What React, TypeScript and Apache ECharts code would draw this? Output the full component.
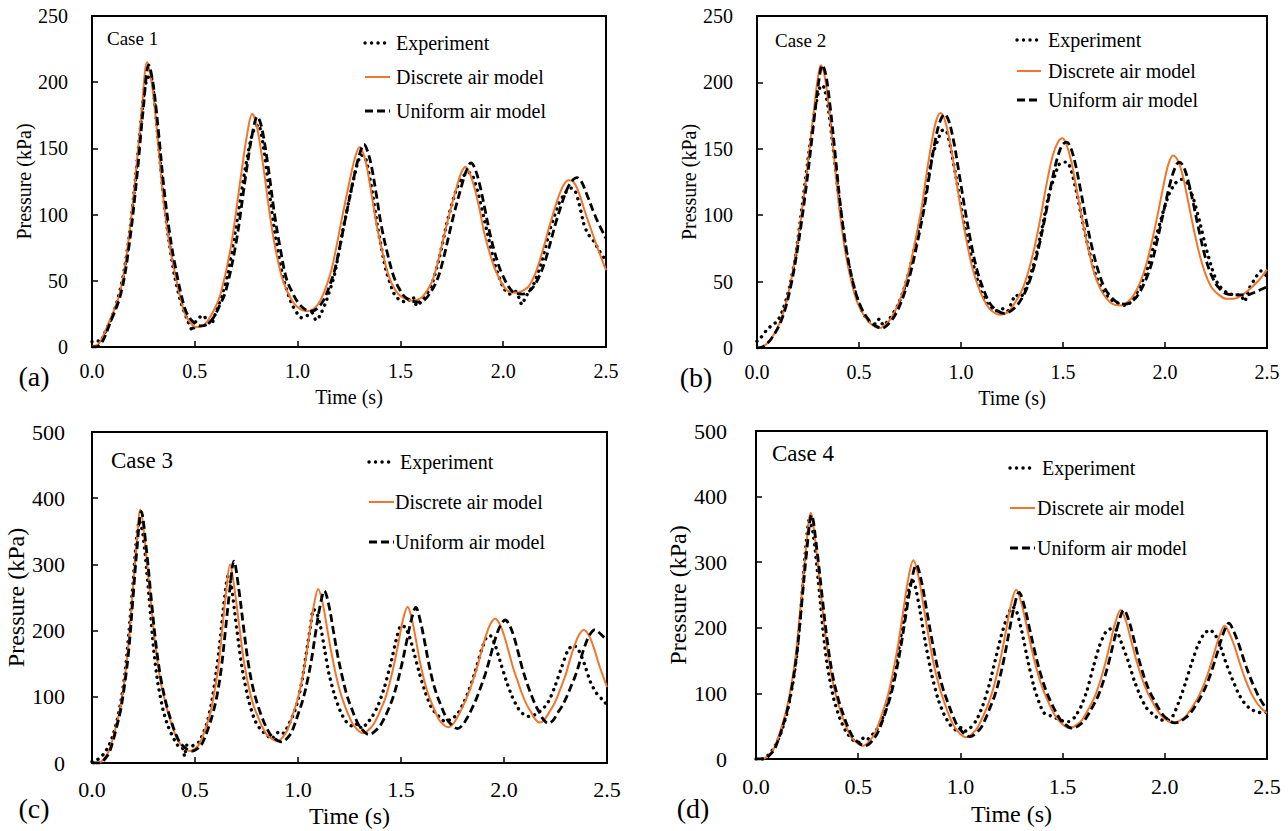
import React, { useEffect, useRef } from "react";
import * as echarts from "echarts";

type P = [number, number];

const SERIES_NAMES = ["Experiment", "Discrete air model", "Uniform air model"];
const CASE_LABELS = ["Case 1", "Case 2", "Case 3", "Case 4"];
const PANEL_LABELS = ["(a)", "(b)", "(c)", "(d)"];
const X_NAME = "Time (s)";
const Y_NAME = "Pressure (kPa)";
const X_MAX = 2.5;
const X_STEP = 0.5;
const Y_MAX = [250, 250, 500, 500];
const Y_STEP = [50, 50, 100, 100];

// ---------- Case 1 ----------
const A_EXP: P[] = [[0.0,4],[0.02,5],[0.04,4],[0.06,10],[0.09,20],[0.12,33],[0.15,52],[0.18,82],[0.21,125],[0.235,165],[0.255,195],[0.27,203],[0.285,205],[0.3,192],[0.32,160],[0.345,118],[0.37,85],[0.4,55],[0.43,35],[0.46,22],[0.49,12],[0.5,18],[0.52,22],[0.54,24],[0.56,20],[0.58,17],[0.6,25],[0.63,38],[0.66,55],[0.7,90],[0.74,130],[0.77,155],[0.79,165],[0.81,168],[0.83,155],[0.86,120],[0.89,85],[0.93,52],[0.97,33],[1.0,25],[1.02,22],[1.05,24],[1.07,26],[1.09,20],[1.11,24],[1.14,35],[1.18,55],[1.22,88],[1.26,118],[1.29,138],[1.31,145],[1.33,143],[1.36,120],[1.39,90],[1.43,58],[1.47,40],[1.5,35],[1.53,34],[1.56,38],[1.58,31],[1.61,36],[1.65,46],[1.69,68],[1.73,96],[1.77,118],[1.8,128],[1.83,132],[1.85,130],[1.88,115],[1.92,88],[1.96,62],[2.0,45],[2.03,40],[2.06,42],[2.08,36],[2.09,32],[2.11,38],[2.15,48],[2.19,66],[2.23,90],[2.27,108],[2.3,116],[2.33,120],[2.35,118],[2.37,108],[2.39,94],[2.41,86],[2.44,80],[2.47,72],[2.5,65]];
const A_DISC: P[] = [[0.0,1],[0.03,2],[0.075,16],[0.134,40],[0.174,76],[0.213,131],[0.243,181],[0.268,215],[0.29,200],[0.315,165],[0.341,121],[0.365,90],[0.39,66],[0.44,31],[0.47,20],[0.509,15],[0.54,16],[0.568,21],[0.6,30],[0.627,41],[0.676,76],[0.726,131],[0.755,161],[0.779,176],[0.8,168],[0.83,140],[0.864,101],[0.89,76],[0.923,53],[0.95,42],[0.982,33],[1.02,28],[1.051,27],[1.08,29],[1.11,35],[1.14,46],[1.169,61],[1.218,99],[1.258,129],[1.283,145],[1.303,151],[1.32,146],[1.337,136],[1.36,115],[1.386,91],[1.415,70],[1.445,53],[1.475,43],[1.504,38],[1.563,35],[1.6,37],[1.623,41],[1.655,50],[1.682,64],[1.731,96],[1.774,121],[1.797,132],[1.816,136],[1.835,132],[1.859,121],[1.885,104],[1.908,86],[1.94,68],[1.968,56],[2.017,43],[2.07,41],[2.1,43],[2.125,46],[2.155,55],[2.185,69],[2.234,96],[2.283,119],[2.318,126],[2.34,125],[2.362,119],[2.411,96],[2.461,74],[2.5,58]];
const A_UNIF: P[] = [[0.0,0],[0.02,0],[0.05,4],[0.085,17],[0.14,40],[0.18,76],[0.22,131],[0.25,181],[0.276,213],[0.298,198],[0.323,163],[0.35,120],[0.375,89],[0.4,65],[0.45,30],[0.485,20],[0.528,16],[0.56,17],[0.59,22],[0.62,31],[0.65,42],[0.7,78],[0.75,132],[0.78,161],[0.804,174],[0.825,166],[0.855,138],[0.888,100],[0.915,75],[0.945,52],[0.975,41],[1.005,33],[1.04,28],[1.065,27],[1.095,29],[1.125,35],[1.155,46],[1.185,61],[1.235,99],[1.275,129],[1.302,146],[1.323,153],[1.342,147],[1.36,136],[1.383,115],[1.408,91],[1.438,70],[1.468,53],[1.498,43],[1.528,37],[1.583,34],[1.62,36],[1.645,41],[1.677,50],[1.705,64],[1.755,97],[1.8,123],[1.823,134],[1.843,139],[1.862,135],[1.885,123],[1.91,105],[1.935,86],[1.965,68],[1.995,55],[2.045,42],[2.096,40],[2.125,42],[2.15,46],[2.18,55],[2.21,68],[2.26,96],[2.31,119],[2.338,126],[2.358,128],[2.38,125],[2.405,116],[2.45,98],[2.5,82]];

// ---------- Case 2 ----------
const B_EXP: P[] = [[0.0,5],[0.02,8],[0.05,14],[0.08,18],[0.1,20],[0.13,30],[0.16,46],[0.19,70],[0.22,105],[0.25,142],[0.28,175],[0.3,192],[0.315,198],[0.33,196],[0.35,180],[0.37,155],[0.4,115],[0.43,80],[0.46,55],[0.49,38],[0.52,26],[0.55,20],[0.58,18],[0.6,22],[0.62,17],[0.65,22],[0.69,32],[0.72,44],[0.75,60],[0.79,88],[0.83,120],[0.86,145],[0.89,158],[0.91,164],[0.93,163],[0.95,150],[0.98,125],[1.01,98],[1.04,76],[1.07,57],[1.1,42],[1.13,33],[1.16,28],[1.19,28],[1.21,30],[1.23,28],[1.25,35],[1.27,40],[1.29,38],[1.32,46],[1.36,65],[1.4,92],[1.43,115],[1.46,130],[1.48,138],[1.5,140],[1.52,140],[1.54,134],[1.57,115],[1.6,92],[1.63,72],[1.66,55],[1.7,42],[1.74,36],[1.78,33],[1.81,32],[1.84,36],[1.87,44],[1.91,58],[1.95,80],[1.99,102],[2.02,116],[2.05,124],[2.08,127],[2.11,124],[2.14,112],[2.17,95],[2.2,76],[2.23,60],[2.26,48],[2.3,42],[2.34,40],[2.37,40],[2.39,35],[2.41,44],[2.44,52],[2.47,58],[2.5,54]];
const B_DISC: P[] = [[0.0,0],[0.03,1],[0.07,7],[0.117,21],[0.158,44],[0.198,79],[0.239,126],[0.279,179],[0.298,203],[0.313,213],[0.33,206],[0.35,184],[0.375,148],[0.4,110],[0.43,75],[0.461,51],[0.49,35],[0.522,25],[0.56,18],[0.603,15],[0.64,19],[0.674,27],[0.71,40],[0.744,58],[0.775,80],[0.805,104],[0.835,135],[0.86,158],[0.88,172],[0.9,177],[0.92,172],[0.945,156],[0.97,133],[1.0,104],[1.028,80],[1.058,59],[1.088,45],[1.12,34],[1.15,28],[1.193,25],[1.23,27],[1.26,33],[1.3,44],[1.331,58],[1.362,77],[1.392,100],[1.42,124],[1.45,145],[1.475,155],[1.497,158],[1.515,154],[1.54,141],[1.565,121],[1.594,97],[1.625,74],[1.654,56],[1.685,44],[1.715,37],[1.745,33],[1.782,32],[1.82,35],[1.847,40],[1.88,50],[1.91,64],[1.94,83],[1.97,105],[2.0,128],[2.02,140],[2.04,145],[2.06,142],[2.085,131],[2.11,113],[2.14,90],[2.17,70],[2.2,55],[2.231,45],[2.265,40],[2.3,37],[2.336,37],[2.37,39],[2.42,45],[2.46,51],[2.5,59]];
const B_UNIF: P[] = [[0.0,0],[0.03,1],[0.07,7],[0.12,21],[0.162,44],[0.203,79],[0.245,126],[0.285,179],[0.305,203],[0.32,213],[0.337,206],[0.357,184],[0.382,148],[0.407,110],[0.437,75],[0.468,51],[0.498,35],[0.53,25],[0.568,18],[0.613,15],[0.65,19],[0.685,27],[0.72,40],[0.755,58],[0.787,80],[0.818,104],[0.85,135],[0.876,158],[0.898,171],[0.92,176],[0.94,171],[0.965,155],[0.99,132],[1.02,104],[1.048,80],[1.078,59],[1.108,45],[1.14,34],[1.17,29],[1.21,26],[1.245,28],[1.28,33],[1.32,44],[1.352,58],[1.383,77],[1.414,100],[1.442,123],[1.472,143],[1.497,153],[1.519,155],[1.537,151],[1.56,139],[1.585,120],[1.614,96],[1.645,74],[1.675,57],[1.705,45],[1.738,38],[1.77,34],[1.806,33],[1.845,36],[1.872,41],[1.905,51],[1.935,64],[1.965,83],[1.995,104],[2.025,124],[2.05,136],[2.069,140],[2.09,137],[2.115,125],[2.14,108],[2.17,86],[2.2,67],[2.23,54],[2.26,46],[2.3,41],[2.362,40],[2.4,40],[2.44,42],[2.47,44],[2.5,46]];

// ---------- Case 3 ----------
const C_EXP: P[] = [[0.0,2],[0.02,4],[0.04,8],[0.06,15],[0.08,25],[0.1,40],[0.12,62],[0.14,92],[0.16,135],[0.18,200],[0.2,275],[0.215,335],[0.23,366],[0.245,350],[0.26,310],[0.28,240],[0.3,170],[0.32,120],[0.345,80],[0.37,55],[0.4,35],[0.42,25],[0.44,22],[0.45,10],[0.46,27],[0.48,25],[0.5,28],[0.52,32],[0.54,45],[0.56,62],[0.58,90],[0.6,130],[0.62,180],[0.64,240],[0.66,282],[0.675,270],[0.69,235],[0.71,185],[0.73,140],[0.76,95],[0.79,65],[0.82,50],[0.85,42],[0.87,36],[0.89,42],[0.91,48],[0.93,45],[0.95,55],[0.98,75],[1.0,95],[1.02,125],[1.04,165],[1.06,205],[1.075,232],[1.09,228],[1.11,205],[1.13,170],[1.15,135],[1.18,100],[1.21,75],[1.24,60],[1.27,55],[1.29,60],[1.31,52],[1.33,58],[1.36,70],[1.39,88],[1.42,115],[1.45,150],[1.48,190],[1.5,208],[1.52,205],[1.54,192],[1.56,170],[1.59,135],[1.62,105],[1.65,82],[1.67,75],[1.7,65],[1.72,62],[1.74,66],[1.77,72],[1.8,88],[1.83,110],[1.86,138],[1.89,170],[1.915,190],[1.935,192],[1.955,180],[1.98,155],[2.01,125],[2.04,100],[2.07,82],[2.1,72],[2.13,70],[2.16,75],[2.19,82],[2.22,95],[2.25,118],[2.28,145],[2.31,170],[2.335,178],[2.36,172],[2.39,150],[2.42,122],[2.45,105],[2.48,95],[2.5,88]];
const C_DISC: P[] = [[0.0,0],[0.03,0],[0.071,12],[0.092,27],[0.112,50],[0.133,77],[0.153,115],[0.174,169],[0.194,245],[0.215,326],[0.235,383],[0.259,328],[0.283,252],[0.307,179],[0.331,127],[0.356,91],[0.38,65],[0.404,43],[0.428,29],[0.476,18],[0.515,26],[0.534,38],[0.554,55],[0.573,74],[0.592,103],[0.612,142],[0.631,198],[0.651,258],[0.67,300],[0.693,260],[0.716,204],[0.739,150],[0.762,113],[0.785,86],[0.808,68],[0.831,52],[0.854,41],[0.9,33],[0.94,45],[0.959,58],[0.979,77],[0.999,97],[1.019,125],[1.039,160],[1.058,201],[1.078,240],[1.098,263],[1.12,241],[1.141,204],[1.163,165],[1.185,132],[1.206,106],[1.228,86],[1.25,69],[1.272,56],[1.315,45],[1.358,55],[1.38,66],[1.402,81],[1.424,98],[1.445,121],[1.467,150],[1.489,184],[1.51,217],[1.532,236],[1.552,218],[1.572,187],[1.591,154],[1.611,127],[1.631,105],[1.651,89],[1.671,74],[1.69,63],[1.73,54],[1.753,59],[1.775,70],[1.798,84],[1.821,100],[1.844,120],[1.866,141],[1.889,167],[1.912,192],[1.934,210],[1.957,218],[1.979,210],[2.0,193],[2.022,169],[2.044,144],[2.066,124],[2.087,105],[2.109,89],[2.131,77],[2.152,66],[2.174,61],[2.195,65],[2.216,75],[2.238,86],[2.259,100],[2.28,117],[2.301,135],[2.322,158],[2.344,179],[2.365,194],[2.386,201],[2.41,194],[2.435,175],[2.46,150],[2.48,132],[2.5,115]];
const C_UNIF: P[] = [[0.0,0],[0.034,0],[0.075,11],[0.096,27],[0.116,50],[0.137,77],[0.157,115],[0.178,169],[0.198,245],[0.219,326],[0.239,380],[0.263,326],[0.287,250],[0.311,178],[0.335,126],[0.36,90],[0.384,64],[0.408,43],[0.432,29],[0.486,18],[0.527,26],[0.547,38],[0.567,55],[0.587,75],[0.608,104],[0.628,144],[0.648,201],[0.669,262],[0.689,305],[0.712,264],[0.735,207],[0.758,152],[0.781,114],[0.805,87],[0.828,67],[0.851,51],[0.874,40],[0.92,32],[0.962,43],[0.982,57],[1.003,76],[1.024,96],[1.045,123],[1.066,157],[1.086,198],[1.107,237],[1.128,260],[1.15,238],[1.171,201],[1.193,162],[1.215,130],[1.236,104],[1.258,84],[1.28,67],[1.302,54],[1.345,43],[1.39,53],[1.413,64],[1.436,79],[1.459,97],[1.481,120],[1.504,149],[1.527,183],[1.55,216],[1.572,235],[1.592,217],[1.613,186],[1.633,153],[1.653,125],[1.674,103],[1.694,87],[1.714,72],[1.735,61],[1.775,52],[1.798,57],[1.821,68],[1.844,82],[1.867,98],[1.891,118],[1.914,139],[1.937,165],[1.96,190],[1.983,208],[2.006,216],[2.027,208],[2.048,191],[2.068,168],[2.089,143],[2.11,122],[2.131,104],[2.152,88],[2.172,76],[2.193,65],[2.214,60],[2.237,64],[2.259,75],[2.282,86],[2.304,100],[2.327,117],[2.349,134],[2.372,157],[2.395,179],[2.417,194],[2.44,201],[2.465,196],[2.485,190],[2.5,185]];

// ---------- Case 4 ----------
const D_EXP: P[] = [[0.0,0],[0.03,0],[0.06,6],[0.09,18],[0.12,38],[0.15,68],[0.18,115],[0.2,160],[0.22,230],[0.24,310],[0.26,364],[0.275,352],[0.29,318],[0.31,255],[0.33,190],[0.35,140],[0.38,92],[0.41,62],[0.44,42],[0.47,30],[0.5,25],[0.52,32],[0.54,28],[0.56,35],[0.58,40],[0.61,55],[0.64,82],[0.67,120],[0.7,170],[0.73,225],[0.75,262],[0.765,273],[0.78,262],[0.8,230],[0.83,175],[0.86,128],[0.89,92],[0.92,68],[0.95,52],[0.98,44],[1.0,48],[1.02,42],[1.05,48],[1.08,60],[1.11,82],[1.14,112],[1.17,150],[1.2,188],[1.23,218],[1.255,232],[1.275,225],[1.3,195],[1.33,150],[1.36,110],[1.39,82],[1.41,70],[1.44,66],[1.47,62],[1.5,58],[1.53,57],[1.56,64],[1.59,80],[1.62,105],[1.65,140],[1.68,172],[1.71,193],[1.74,199],[1.765,196],[1.79,175],[1.82,150],[1.85,120],[1.88,96],[1.91,78],[1.95,66],[1.98,60],[2.01,58],[2.04,66],[2.07,88],[2.1,115],[2.13,145],[2.16,172],[2.19,190],[2.22,197],[2.24,192],[2.26,182],[2.28,165],[2.3,146],[2.33,122],[2.36,100],[2.39,85],[2.42,76],[2.45,72],[2.48,70],[2.5,72]];
const D_DISC: P[] = [[0.0,0],[0.03,0],[0.078,11],[0.101,26],[0.125,49],[0.149,75],[0.173,113],[0.197,165],[0.22,240],[0.244,319],[0.268,375],[0.294,322],[0.319,247],[0.345,176],[0.37,126],[0.396,91],[0.421,66],[0.447,45],[0.472,31],[0.523,20],[0.572,34],[0.597,51],[0.622,74],[0.647,99],[0.671,133],[0.696,176],[0.721,227],[0.745,275],[0.77,303],[0.796,276],[0.821,230],[0.847,182],[0.872,141],[0.898,109],[0.924,84],[0.949,63],[0.975,47],[1.026,33],[1.075,44],[1.1,58],[1.125,75],[1.15,96],[1.174,123],[1.199,157],[1.224,197],[1.248,236],[1.273,258],[1.299,237],[1.325,201],[1.352,163],[1.378,131],[1.404,106],[1.43,87],[1.456,70],[1.483,58],[1.535,47],[1.585,56],[1.61,67],[1.635,81],[1.66,97],[1.684,119],[1.709,146],[1.734,178],[1.759,209],[1.784,227],[1.81,210],[1.835,181],[1.861,150],[1.887,124],[1.913,103],[1.938,88],[1.964,74],[1.99,64],[2.041,55],[2.091,62],[2.117,71],[2.142,83],[2.167,96],[2.192,114],[2.217,136],[2.243,163],[2.268,188],[2.293,203],[2.318,190],[2.343,170],[2.368,145],[2.393,122],[2.42,102],[2.445,88],[2.47,78],[2.5,70]];
const D_UNIF: P[] = [[0.0,0],[0.034,0],[0.082,11],[0.105,26],[0.129,48],[0.153,74],[0.177,112],[0.201,164],[0.224,238],[0.248,316],[0.272,372],[0.298,319],[0.324,247],[0.35,177],[0.376,126],[0.403,91],[0.429,66],[0.455,45],[0.481,31],[0.533,20],[0.584,34],[0.609,50],[0.634,72],[0.659,97],[0.684,130],[0.709,172],[0.734,221],[0.759,268],[0.784,296],[0.81,270],[0.836,225],[0.863,178],[0.889,138],[0.915,107],[0.941,84],[0.967,63],[0.994,47],[1.046,34],[1.094,45],[1.118,58],[1.142,76],[1.167,96],[1.191,122],[1.215,155],[1.239,195],[1.263,232],[1.287,254],[1.313,233],[1.339,198],[1.366,161],[1.392,130],[1.418,105],[1.444,86],[1.47,70],[1.497,57],[1.549,47],[1.599,56],[1.624,67],[1.649,81],[1.675,97],[1.7,119],[1.725,146],[1.75,178],[1.775,209],[1.8,227],[1.825,210],[1.85,181],[1.875,150],[1.9,124],[1.926,103],[1.951,88],[1.976,74],[2.001,64],[2.051,55],[2.103,63],[2.13,72],[2.156,84],[2.182,98],[2.208,116],[2.234,139],[2.261,166],[2.287,192],[2.313,207],[2.338,194],[2.363,174],[2.388,150],[2.413,128],[2.44,108],[2.465,92],[2.5,75]];

const CASES: P[][][] = [
  [A_EXP, A_DISC, A_UNIF],
  [B_EXP, B_DISC, B_UNIF],
  [C_EXP, C_DISC, C_UNIF],
  [D_EXP, D_DISC, D_UNIF],
];

// ---------- styles / layout ----------
const FONT = '"Liberation Serif", "Times New Roman", serif';
const ORANGE = "#F2752B";
const LINE_STYLES: any[] = [
  { color: "#000", width: 3.4, type: [0.1, 6.4], cap: "round" },
  { color: ORANGE, width: 2, type: "solid" },
  { color: "#000", width: 2.8, type: [8, 4] },
];
const SMOOTH = [0.2, 0.35, 0.35];

const LAYOUT = [
  { grid: { left: 92, top: 16, width: 514, height: 331 }, tick: 20, title: 20, xGap: 40, yGap: 56, xMargin: 14, yMargin: 24,
    caseX: 107, caseY: 38, caseSize: 19, panelX: 34, panelY: 376, lx1: 365, lx2: 390, tx: [396, 396, 396], ly: [43, 77, 111] },
  { grid: { left: 757, top: 16, width: 510, height: 332 }, tick: 20, title: 20, xGap: 40, yGap: 56, xMargin: 14, yMargin: 24,
    caseX: 775, caseY: 40, caseSize: 19, panelX: 696, panelY: 377, lx1: 1017, lx2: 1041, tx: [1048, 1048, 1048], ly: [40, 71, 100] },
  { grid: { left: 92, top: 432, width: 515, height: 331 }, tick: 22, title: 24, xGap: 41, yGap: 57, xMargin: 15, yMargin: 27,
    caseX: 111, caseY: 460, caseSize: 23, panelX: 34, panelY: 808, lx1: 369, lx2: 394, tx: [400, 395, 395], ly: [462, 502, 542] },
  { grid: { left: 756, top: 431, width: 511, height: 328 }, tick: 22, title: 24, xGap: 43, yGap: 63, xMargin: 16, yMargin: 29,
    caseX: 772, caseY: 453, caseSize: 23, panelX: 693, panelY: 808, lx1: 1010, lx2: 1035, tx: [1042, 1037, 1037], ly: [468, 508, 548] },
];

function buildOption() {
  const grid: any[] = [];
  const xAxis: any[] = [];
  const yAxis: any[] = [];
  const series: any[] = [];
  const graphic: any[] = [];

  LAYOUT.forEach((L, i) => {
    grid.push({ ...L.grid, show: true, borderColor: "#000", borderWidth: 2, backgroundColor: "transparent", containLabel: false, outerBoundsMode: "none" });
    xAxis.push({
      type: "value", gridIndex: i, min: 0, max: X_MAX, interval: X_STEP,
      name: X_NAME, nameLocation: "middle", nameGap: L.xGap,
      nameTextStyle: { fontFamily: FONT, fontSize: L.title, color: "#000" },
      axisLine: { show: true, lineStyle: { color: "#000", width: 2 } },
      axisTick: { show: true, inside: true, length: 6, lineStyle: { color: "#000", width: 1.5 } },
      axisLabel: { fontFamily: FONT, fontSize: L.tick, color: "#000", margin: L.xMargin, showMinLabel: true, showMaxLabel: true,
        formatter: (v: number) => v.toFixed(1) },
      splitLine: { show: false },
    });
    yAxis.push({
      type: "value", gridIndex: i, min: 0, max: Y_MAX[i], interval: Y_STEP[i],
      name: Y_NAME, nameLocation: "middle", nameGap: L.yGap,
      nameTextStyle: { fontFamily: FONT, fontSize: L.title, color: "#000" },
      axisLine: { show: true, lineStyle: { color: "#000", width: 2 } },
      axisTick: { show: true, inside: true, length: 6, lineStyle: { color: "#000", width: 1.5 } },
      axisLabel: { fontFamily: FONT, fontSize: L.tick, color: "#000", margin: L.yMargin, showMinLabel: true, showMaxLabel: true },
      splitLine: { show: false },
    });
    CASES[i].forEach((data, k) => {
      series.push({
        type: "line", name: SERIES_NAMES[k], xAxisIndex: i, yAxisIndex: i, data,
        showSymbol: false, symbol: "none", smooth: SMOOTH[k], clip: true,
        lineStyle: LINE_STYLES[k], itemStyle: { color: LINE_STYLES[k].color }, z: 2 + k,
      });
    });
    // case label
    graphic.push({ type: "text", x: L.caseX, y: L.caseY, style: { text: CASE_LABELS[i], fontFamily: FONT, fontSize: L.caseSize, fill: "#000", align: "left", verticalAlign: "middle" } });
    // panel label
    graphic.push({ type: "text", x: L.panelX, y: L.panelY, style: { text: PANEL_LABELS[i], fontFamily: FONT, fontSize: 28, fill: "#000", align: "center", verticalAlign: "middle" } });
    // legend
    SERIES_NAMES.forEach((nm, k) => {
      const s = LINE_STYLES[k];
      graphic.push({
        type: "line", shape: { x1: L.lx1, y1: L.ly[k], x2: L.lx2, y2: L.ly[k] },
        style: { stroke: s.color, lineWidth: s.width, lineDash: Array.isArray(s.type) ? s.type : null, lineCap: s.cap || "butt" },
      });
      graphic.push({ type: "text", x: L.tx[k], y: L.ly[k], style: { text: nm, fontFamily: FONT, fontSize: 20, fill: "#000", align: "left", verticalAlign: "middle" } });
    });
  });

  return { animation: false, backgroundColor: "#fff", grid, xAxis, yAxis, series, graphic };
}

export default function App() {
  const ref = useRef<HTMLDivElement>(null);
  useEffect(() => {
    if (!ref.current) return;
    const chart = echarts.init(ref.current, null, { renderer: "svg" });
    chart.setOption(buildOption() as any);
    return () => chart.dispose();
  }, []);
  return <div ref={ref} style={{ position: "fixed", left: 0, top: 0, width: 1288, height: 831, background: "#fff" }} />;
}
